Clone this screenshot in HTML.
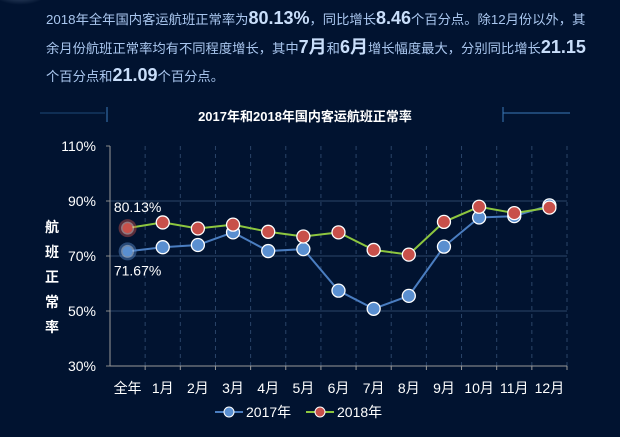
<!DOCTYPE html>
<html><head><meta charset="utf-8"><style>
body{margin:0;width:620px;height:437px;background:#011330;overflow:hidden;font-family:"Liberation Sans","Noto Sans CJK SC",sans-serif;position:relative}
.p{position:absolute;left:46px;top:5px;width:574px;color:#a9c6ee;font-size:13.3px;line-height:27.5px;white-space:nowrap}
.p b{color:#c9defa;font-size:18px}
</style></head><body>
<div style="position:absolute;left:-10px;top:-25px;width:60px;height:30px;border-radius:50%;background:radial-gradient(#556a88,rgba(1,19,48,0) 70%)"></div>
<div class="p">2018年全年国内客运航班正常率为<b>80.13%</b>，同比增长<b>8.46</b>个百分点。除12月份以外，其<br>余月份航班正常率均有不同程度增长，其中<b>7月</b>和<b>6月</b>增长幅度最大，分别同比增长<b>21.15</b><br>个百分点和<b>21.09</b>个百分点。</div>
<svg id="c" width="620" height="437" style="position:absolute;left:0;top:0">
<line x1="40" y1="113" x2="105" y2="113" stroke="#1d4a78"/>
<line x1="107" y1="107" x2="107" y2="122" stroke="#3a78b8"/>
<line x1="503" y1="113" x2="570" y2="113" stroke="#3a78b8"/>
<line x1="503" y1="107" x2="503" y2="122" stroke="#3a78b8"/>
<text x="305" y="121" fill="#fff" font-size="13" font-weight="bold" text-anchor="middle">2017年和2018年国内客运航班正常率</text>
<g fill="#fff" font-size="14" font-weight="bold" text-anchor="middle">
<text x="52" y="232">航</text><text x="52" y="257">班</text><text x="52" y="282">正</text><text x="52" y="307">常</text><text x="52" y="332">率</text></g>
</svg>
<script>
const cats=["全年","1月","2月","3月","4月","5月","6月","7月","8月","9月","10月","11月","12月"];
const s2017=[71.67,73.2,74,78.6,71.8,72.5,57.4,50.8,55.5,73.4,84,84.5,88.4];
const s2018=[80.13,82.2,80,81.4,78.8,77.1,78.6,72.2,70.5,82.4,87.9,85.6,87.6];
const yTicks=[30,50,70,90,110];
const svg=document.getElementById('c');const NS="http://www.w3.org/2000/svg";
const X0=110,X1=567,Y0=366,Y1=146,YMIN=30,YMAX=110;
const bw=(X1-X0)/cats.length;
const xs=i=>X0+bw*(i+0.5);
const ys=v=>Y0-(v-YMIN)/(YMAX-YMIN)*(Y0-Y1);
function mk(t,a,p){const e=document.createElementNS(NS,t);for(const k in a)e.setAttribute(k,a[k]);(p||svg).appendChild(e);return e;}
yTicks.forEach(v=>{const y=ys(v);
 if(v>YMIN){const g=mk('line',{x1:X0,x2:X1,y1:y,y2:y,stroke:v==YMAX?'none':'#2a4468'});}
 const t=mk('text',{x:X0-14,y:y+5,fill:'#fff','font-size':'14','text-anchor':'end'});t.textContent=v+'%';
 
 
 mk('line',{x1:X0-4,x2:X0,y1:y,y2:y,stroke:'#888'});
});
for(let i=1;i<=cats.length;i++){const x=X0+bw*i;
 const g=mk('line',{x1:x,x2:x,y1:Y1,y2:Y0,stroke:'#2a4468','stroke-dasharray':'4,4'});
 
 
 mk('line',{x1:x,x2:x,y1:Y0,y2:Y0+4,stroke:'#999'});}
mk('line',{x1:X0,x2:X0,y1:Y1,y2:Y0,stroke:'#999'});
mk('line',{x1:X0,x2:X1,y1:Y0,y2:Y0,stroke:'#999'});
cats.forEach((c,i)=>{const t=mk('text',{x:xs(i),y:Y0+27,fill:'#fff','font-size':'14','text-anchor':'middle'});t.textContent=c;
 
 });
function series(d,lc,fc,name){
 const l=mk('polyline',{points:d.map((v,i)=>xs(i)+','+ys(v)).join(' '),fill:'none',stroke:lc,'stroke-width':'2'});
 
 
 d.forEach((v,i)=>{
  if(i==0){mk('circle',{cx:xs(i),cy:ys(v),r:9,fill:fc,opacity:'0.45'});mk('circle',{cx:xs(i),cy:ys(v),r:6.5,fill:'#fff',opacity:'0.35'});}
  const p=mk('circle',{cx:xs(i),cy:ys(v),r:i==0?5:6.5,fill:fc,stroke:i==0?'none':'#fff','stroke-width':'1.3'});
  
  });
}
series(s2017,'#4a7dc0','#5a8fd0','series-2017');
series(s2018,'#8dc63f','#c8504a','series-2018');
const a=mk('text',{x:xs(0)+10,y:ys(s2018[0])-16,fill:'#fff','font-size':'14','text-anchor':'middle'});a.textContent=s2018[0].toFixed(2)+'%';


const b=mk('text',{x:xs(0)+10,y:ys(s2017[0])+24,fill:'#fff','font-size':'14','text-anchor':'middle'});b.textContent=s2017[0].toFixed(2)+'%';


function leg(x,lc,fc,txt){const g=mk('g',{});
 
 
 mk('line',{x1:x,x2:x+28,y1:412,y2:412,stroke:lc,'stroke-width':'2'},g);
 mk('circle',{cx:x+14,cy:412,r:5,fill:fc,stroke:'#fff','stroke-width':'1'},g);
 const t=mk('text',{x:x+31,y:417,fill:'#fff','font-size':'14'},g);t.textContent=txt;}
leg(215,'#4a7dc0','#5a8fd0','2017年');
leg(306,'#8dc63f','#c8504a','2018年');
</script>
</body></html>
